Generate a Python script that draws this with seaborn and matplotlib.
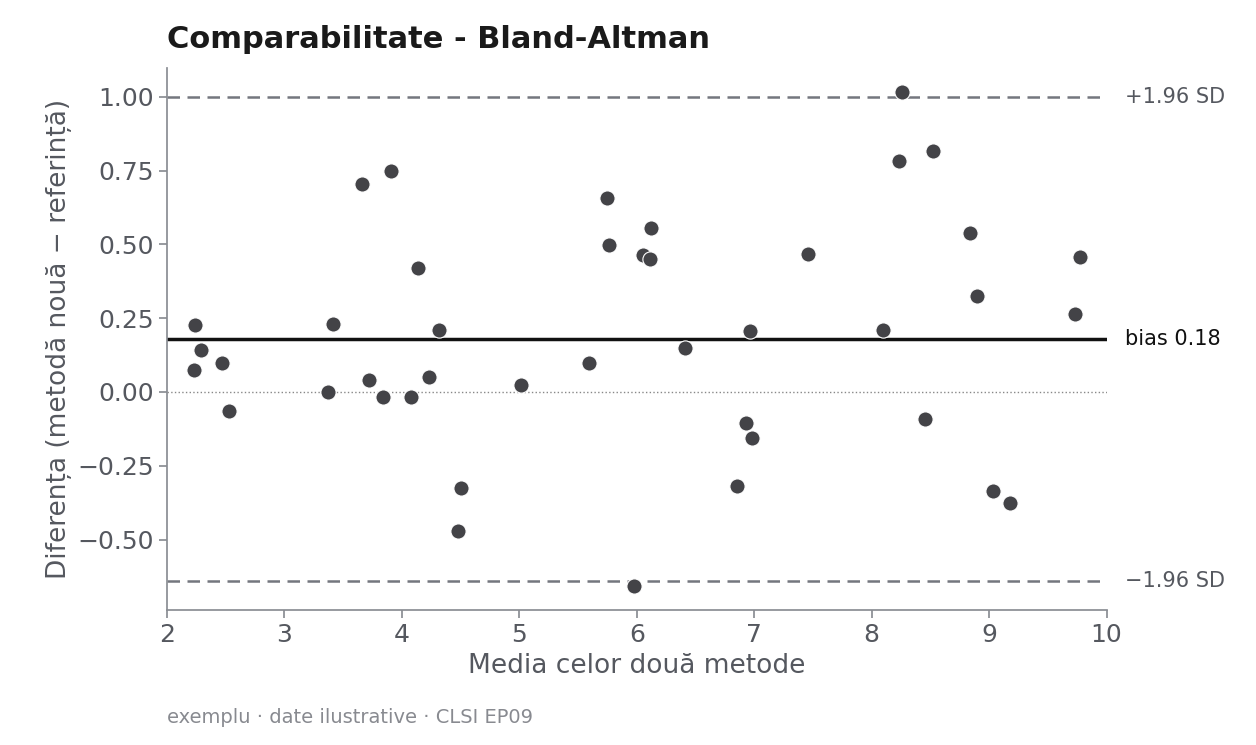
import matplotlib
matplotlib.use("Agg")
import matplotlib.pyplot as plt
import seaborn as sns
import pandas as pd

mean_vals = [2.23,2.24,2.29,2.47,2.53,3.37,3.41,3.66,3.72,3.84,3.91,4.08,4.14,4.23,4.32,4.48,4.50,
             5.01,5.59,5.75,5.76,5.98,6.05,6.12,6.11,6.41,6.85,6.93,6.96,6.98,7.46,8.10,8.23,8.26,
             8.45,8.52,8.84,8.90,9.03,9.18,9.73,9.77]
diff_vals = [0.075,0.227,0.142,0.098,-0.064,0.0,0.23,0.705,0.041,-0.017,0.749,-0.017,0.42,0.051,0.21,
             -0.471,-0.325,0.024,0.098,0.658,0.498,-0.658,0.464,0.556,0.451,0.149,-0.319,-0.105,0.207,
             -0.156,0.468,0.21,0.783,1.017,-0.092,0.817,0.539,0.325,-0.336,-0.376,0.264,0.458]
bias = 0.18
upper = 1.00
lower = -0.64

df = pd.DataFrame({"m": mean_vals, "d": diff_vals})
sns.set_theme(style="ticks")
plt.rcParams['font.family'] = ['DejaVu Sans']
fig = plt.figure(figsize=(12.56, 7.45), dpi=100)
ax = fig.add_axes([0.133, 0.181, 0.748, 0.728])
sns.scatterplot(data=df, x="m", y="d", ax=ax, s=120, color="#434347", edgecolor="white", linewidth=0.8, zorder=3)
ax.axhline(bias, color="#111111", lw=2.5)
ax.axhline(upper, color="#74777e", lw=1.8, ls=(0, (5, 3)))
ax.axhline(lower, color="#74777e", lw=1.8, ls=(0, (5, 3)))
ax.axhline(0, color="#888888", lw=1, ls=":")
ax.set_xlim(2, 10)
ax.set_ylim(-0.739, 1.098)
ax.set_yticks([-0.5, -0.25, 0, 0.25, 0.5, 0.75, 1.0])
ax.set_yticklabels(["−0.50", "−0.25", "0.00", "0.25", "0.50", "0.75", "1.00"])
tc = "#55585f"
ax.tick_params(colors="#8a8d93", labelsize=18, labelcolor=tc, length=6)
for s in ["left", "bottom"]:
    ax.spines[s].set_color("#8a8d93")
sns.despine(ax=ax)
ax.set_xlabel("Media celor două metode", fontsize=19, color=tc, labelpad=4)
ax.set_ylabel("Diferența (metodă nouă − referință)", fontsize=19, color=tc)
ax.set_title("Comparabilitate - Bland-Altman", loc="left", fontsize=22, fontweight="bold", color="#1a1a1a", pad=14)
tr = ax.get_yaxis_transform()
ax.text(1.02, upper, "+1.96 SD", transform=tr, va="center", fontsize=15, color=tc)
ax.text(1.02, lower, "−1.96 SD", transform=tr, va="center", fontsize=15, color=tc)
ax.text(1.02, bias, "bias 0.18", transform=tr, va="center", fontsize=15, color="#111111")
fig.text(0.133, 0.03, "exemplu · date ilustrative · CLSI EP09", fontsize=14, color="#888a90")
fig.savefig("out.png", dpi=100)
